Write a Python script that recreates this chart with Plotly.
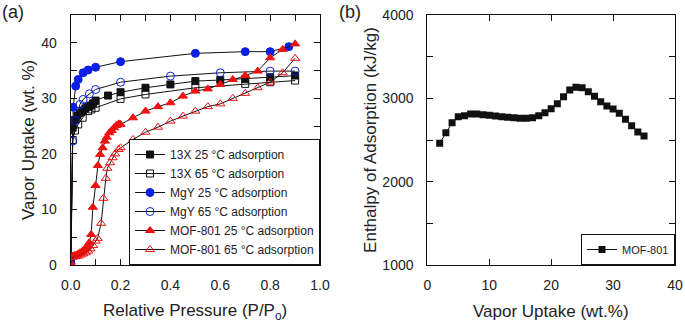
import plotly.graph_objects as go

# ---- Panel (a) data: water vapor isotherms ----
x13_25 = [0.001, 0.008, 0.017, 0.027, 0.037, 0.048, 0.059, 0.07, 0.08, 0.09, 0.10, 0.15, 0.2, 0.3, 0.4, 0.5, 0.6, 0.7, 0.8, 0.9]
y13_25 = [0.3, 24.7, 26.1, 26.9, 27.4, 27.8, 28.2, 28.5, 28.7, 29.1, 29.6, 30.5, 31.1, 31.9, 32.5, 33.1, 33.3, 33.5, 33.8, 34.1]

x13_65 = [0.001, 0.008, 0.017, 0.03, 0.048, 0.07, 0.083, 0.1, 0.2, 0.3, 0.5, 0.7, 0.8, 0.9]
y13_65 = [0.3, 22.5, 24.2, 25.3, 26.5, 27.7, 28.0, 28.3, 29.9, 30.7, 31.9, 32.6, 32.9, 33.2]

xmgy_25 = [0.0, 0.01, 0.02, 0.03, 0.05, 0.07, 0.1, 0.2, 0.5, 0.7, 0.8, 0.875]
ymgy_25 = [0.3, 28.4, 32.2, 33.4, 34.6, 35.1, 35.6, 36.6, 38.1, 38.4, 38.4, 39.3]

xmgy_65 = [0.0, 0.008, 0.02, 0.037, 0.05, 0.075, 0.1, 0.2, 0.4, 0.6, 0.8, 0.9]
ymgy_65 = [0.3, 22.3, 26.0, 28.9, 29.8, 30.8, 31.6, 32.9, 34.0, 34.6, 34.9, 34.9]

xmof_25 = [0.0, 0.008, 0.015, 0.022, 0.03, 0.037, 0.045, 0.052, 0.06, 0.067, 0.074, 0.082, 0.089, 0.1, 0.109, 0.118,
           0.128, 0.137, 0.145, 0.155, 0.164, 0.174, 0.183, 0.193, 0.2, 0.25, 0.3, 0.35, 0.4, 0.45, 0.5, 0.55, 0.6,
           0.65, 0.7, 0.75, 0.8, 0.85, 0.9]
ymof_25 = [0.3, 1.6, 1.7, 1.8, 2.0, 2.2, 2.4, 2.7, 3.0, 3.4, 4.0, 5.5, 10.4, 14.3, 17.9, 19.9,
           21.1, 22.3, 23.0, 23.8, 24.2, 24.7, 25.1, 25.4, 25.3, 26.5, 27.7, 28.5, 29.2, 30.4, 31.3, 31.7, 32.5,
           33.4, 34.1, 34.9, 37.3, 38.8, 39.8]

xmof_65 = [0.0, 0.008, 0.02, 0.03, 0.04, 0.05, 0.06, 0.07, 0.08, 0.09, 0.1, 0.108, 0.122, 0.131, 0.141, 0.147,
           0.158, 0.168, 0.178, 0.192, 0.2, 0.25, 0.3, 0.35, 0.4, 0.45, 0.5, 0.55, 0.6, 0.65, 0.7, 0.75, 0.8,
           0.85, 0.9]
ymof_65 = [0.3, 1.4, 1.5, 1.6, 1.8, 2.0, 2.2, 2.5, 2.9, 3.5, 4.3, 4.8, 7.5, 12.0, 15.6, 17.4,
           18.4, 19.3, 20.0, 20.8, 21.1, 22.6, 23.9, 24.8, 25.9, 26.8, 27.7, 28.5, 29.0, 30.0, 30.9, 31.9, 32.9,
           34.6, 37.2]

# ---- Panel (b) data: enthalpy of adsorption, MOF-801 ----
uptake_b = list(range(2, 36))
enthalpy_b = [2460, 2588, 2708, 2780, 2792, 2812, 2812, 2804, 2796, 2788, 2780, 2772, 2768, 2760, 2760, 2768,
              2792, 2828, 2876, 2936, 3020, 3100, 3132, 3128, 3080, 3024, 2960, 2908, 2872, 2820, 2748, 2672,
              2596, 2548]

names_a = ["13X 25 °C adsorption", "13X 65 °C adsorption",
           "MgY 25 °C adsorption", "MgY 65 °C adsorption",
           "MOF-801 25 °C adsorption", "MOF-801 65 °C adsorption"]

FONT = "Liberation Sans, Arial, sans-serif"
BLACK = "#111111"
BLUE = "#0a1ee6"
RED = "#ee1111"
TXT = "#222222"

fig = go.Figure()

series = [
    (x13_25, y13_25, "square", BLACK, 7),
    (x13_65, y13_65, "square-open", BLACK, 7),
    (xmgy_25, ymgy_25, "circle", BLUE, 8),
    (xmgy_65, ymgy_65, "circle-open", BLUE, 8),
    (xmof_25, ymof_25, "triangle-up", RED, 8),
    (xmof_65, ymof_65, "triangle-up-open", RED, 8),
]
for (xs, ys, sym, col, sz), nm in zip(series, names_a):
    fig.add_trace(go.Scatter(
        x=xs, y=ys, mode="lines+markers", name=nm,
        line=dict(color=BLACK, width=1),
        marker=dict(symbol=sym, color=col, size=sz, line=dict(color=col, width=1)),
        xaxis="x", yaxis="y", legend="legend",
    ))

fig.add_trace(go.Scatter(
    x=uptake_b, y=enthalpy_b, mode="lines+markers", name="MOF-801",
    line=dict(color=BLACK, width=1),
    marker=dict(symbol="square", color=BLACK, size=7),
    xaxis="x2", yaxis="y2", legend="legend2",
))

ax_common = dict(showline=True, linecolor=BLACK, linewidth=1, mirror="ticks", ticks="inside",
                 ticklen=6, tickcolor=BLACK, showgrid=False, zeroline=False, automargin=False,
                 tickfont=dict(family=FONT, size=14, color=TXT))

fig.update_layout(
    width=685, height=324,
    margin=dict(l=0, r=0, t=15, b=59),
    paper_bgcolor="white", plot_bgcolor="white",
    font=dict(family=FONT, color=TXT),
    xaxis=dict(domain=[0.1032, 0.4672], range=[0, 1], dtick=0.2, tickformat=".1f",
               minor=dict(dtick=0.1, ticks="inside", ticklen=6, tickcolor=BLACK),
               anchor="y", ticklabelstandoff=7, **ax_common),
    yaxis=dict(domain=[0, 1], range=[0, 45], dtick=10,
               minor=dict(dtick=5, ticks="inside", ticklen=6, tickcolor=BLACK),
               anchor="x", ticklabelstandoff=10, **ax_common),
    xaxis2=dict(domain=[0.6238, 0.9854], range=[0, 40], dtick=10,
                anchor="y2", ticklabelstandoff=7, **ax_common),
    yaxis2=dict(domain=[0, 1], range=[1000, 4000], dtick=1000,
                minor=dict(dtick=500, ticks="inside", ticklen=6, tickcolor=BLACK),
                anchor="x2", ticklabelstandoff=10, **ax_common),
    legend=dict(x=0.4672, y=0, xanchor="right", yanchor="bottom", xref="paper", yref="paper",
                bgcolor="white", bordercolor=BLACK, borderwidth=1,
                font=dict(family=FONT, size=12, color=TXT), itemwidth=30,
                tracegroupgap=0),
    legend2=dict(x=0.9854, y=0, xanchor="right", yanchor="bottom", xref="paper", yref="paper",
                 bgcolor="white", bordercolor=BLACK, borderwidth=1,
                 font=dict(family=FONT, size=11, color=TXT), itemwidth=30),
    annotations=[
        dict(text="(a)", x=0, y=1.06, xref="paper", yref="paper", xanchor="left", yanchor="top",
             showarrow=False, font=dict(family=FONT, size=18, color=TXT)),
        dict(text="(b)", x=0.492, y=1.06, xref="paper", yref="paper", xanchor="left", yanchor="top",
             showarrow=False, font=dict(family=FONT, size=18, color=TXT)),
        dict(text="Relative Pressure (P/P<sub>o</sub>)", x=0.2852, y=-0.186, xref="paper", yref="paper",
             xanchor="center", yanchor="middle", showarrow=False, font=dict(family=FONT, size=17, color=TXT)),
        dict(text="Vapor Uptake (wt. %)", x=0.041, y=0.5, xref="paper", yref="paper", textangle=-90,
             xanchor="center", yanchor="middle", showarrow=False, font=dict(family=FONT, size=17, color=TXT)),
        dict(text="Vapor Uptake (wt.%)", x=0.8046, y=-0.186, xref="paper", yref="paper",
             xanchor="center", yanchor="middle", showarrow=False, font=dict(family=FONT, size=17, color=TXT)),
        dict(text="Enthalpy of Adsorption (kJ/kg)", x=0.540, y=0.5, xref="paper", yref="paper", textangle=-90,
             xanchor="center", yanchor="middle", showarrow=False, font=dict(family=FONT, size=17, color=TXT)),
    ],
)

fig.write_html("out.html", config={"displayModeBar": False},
               post_script="document.body.style.margin='0';")
